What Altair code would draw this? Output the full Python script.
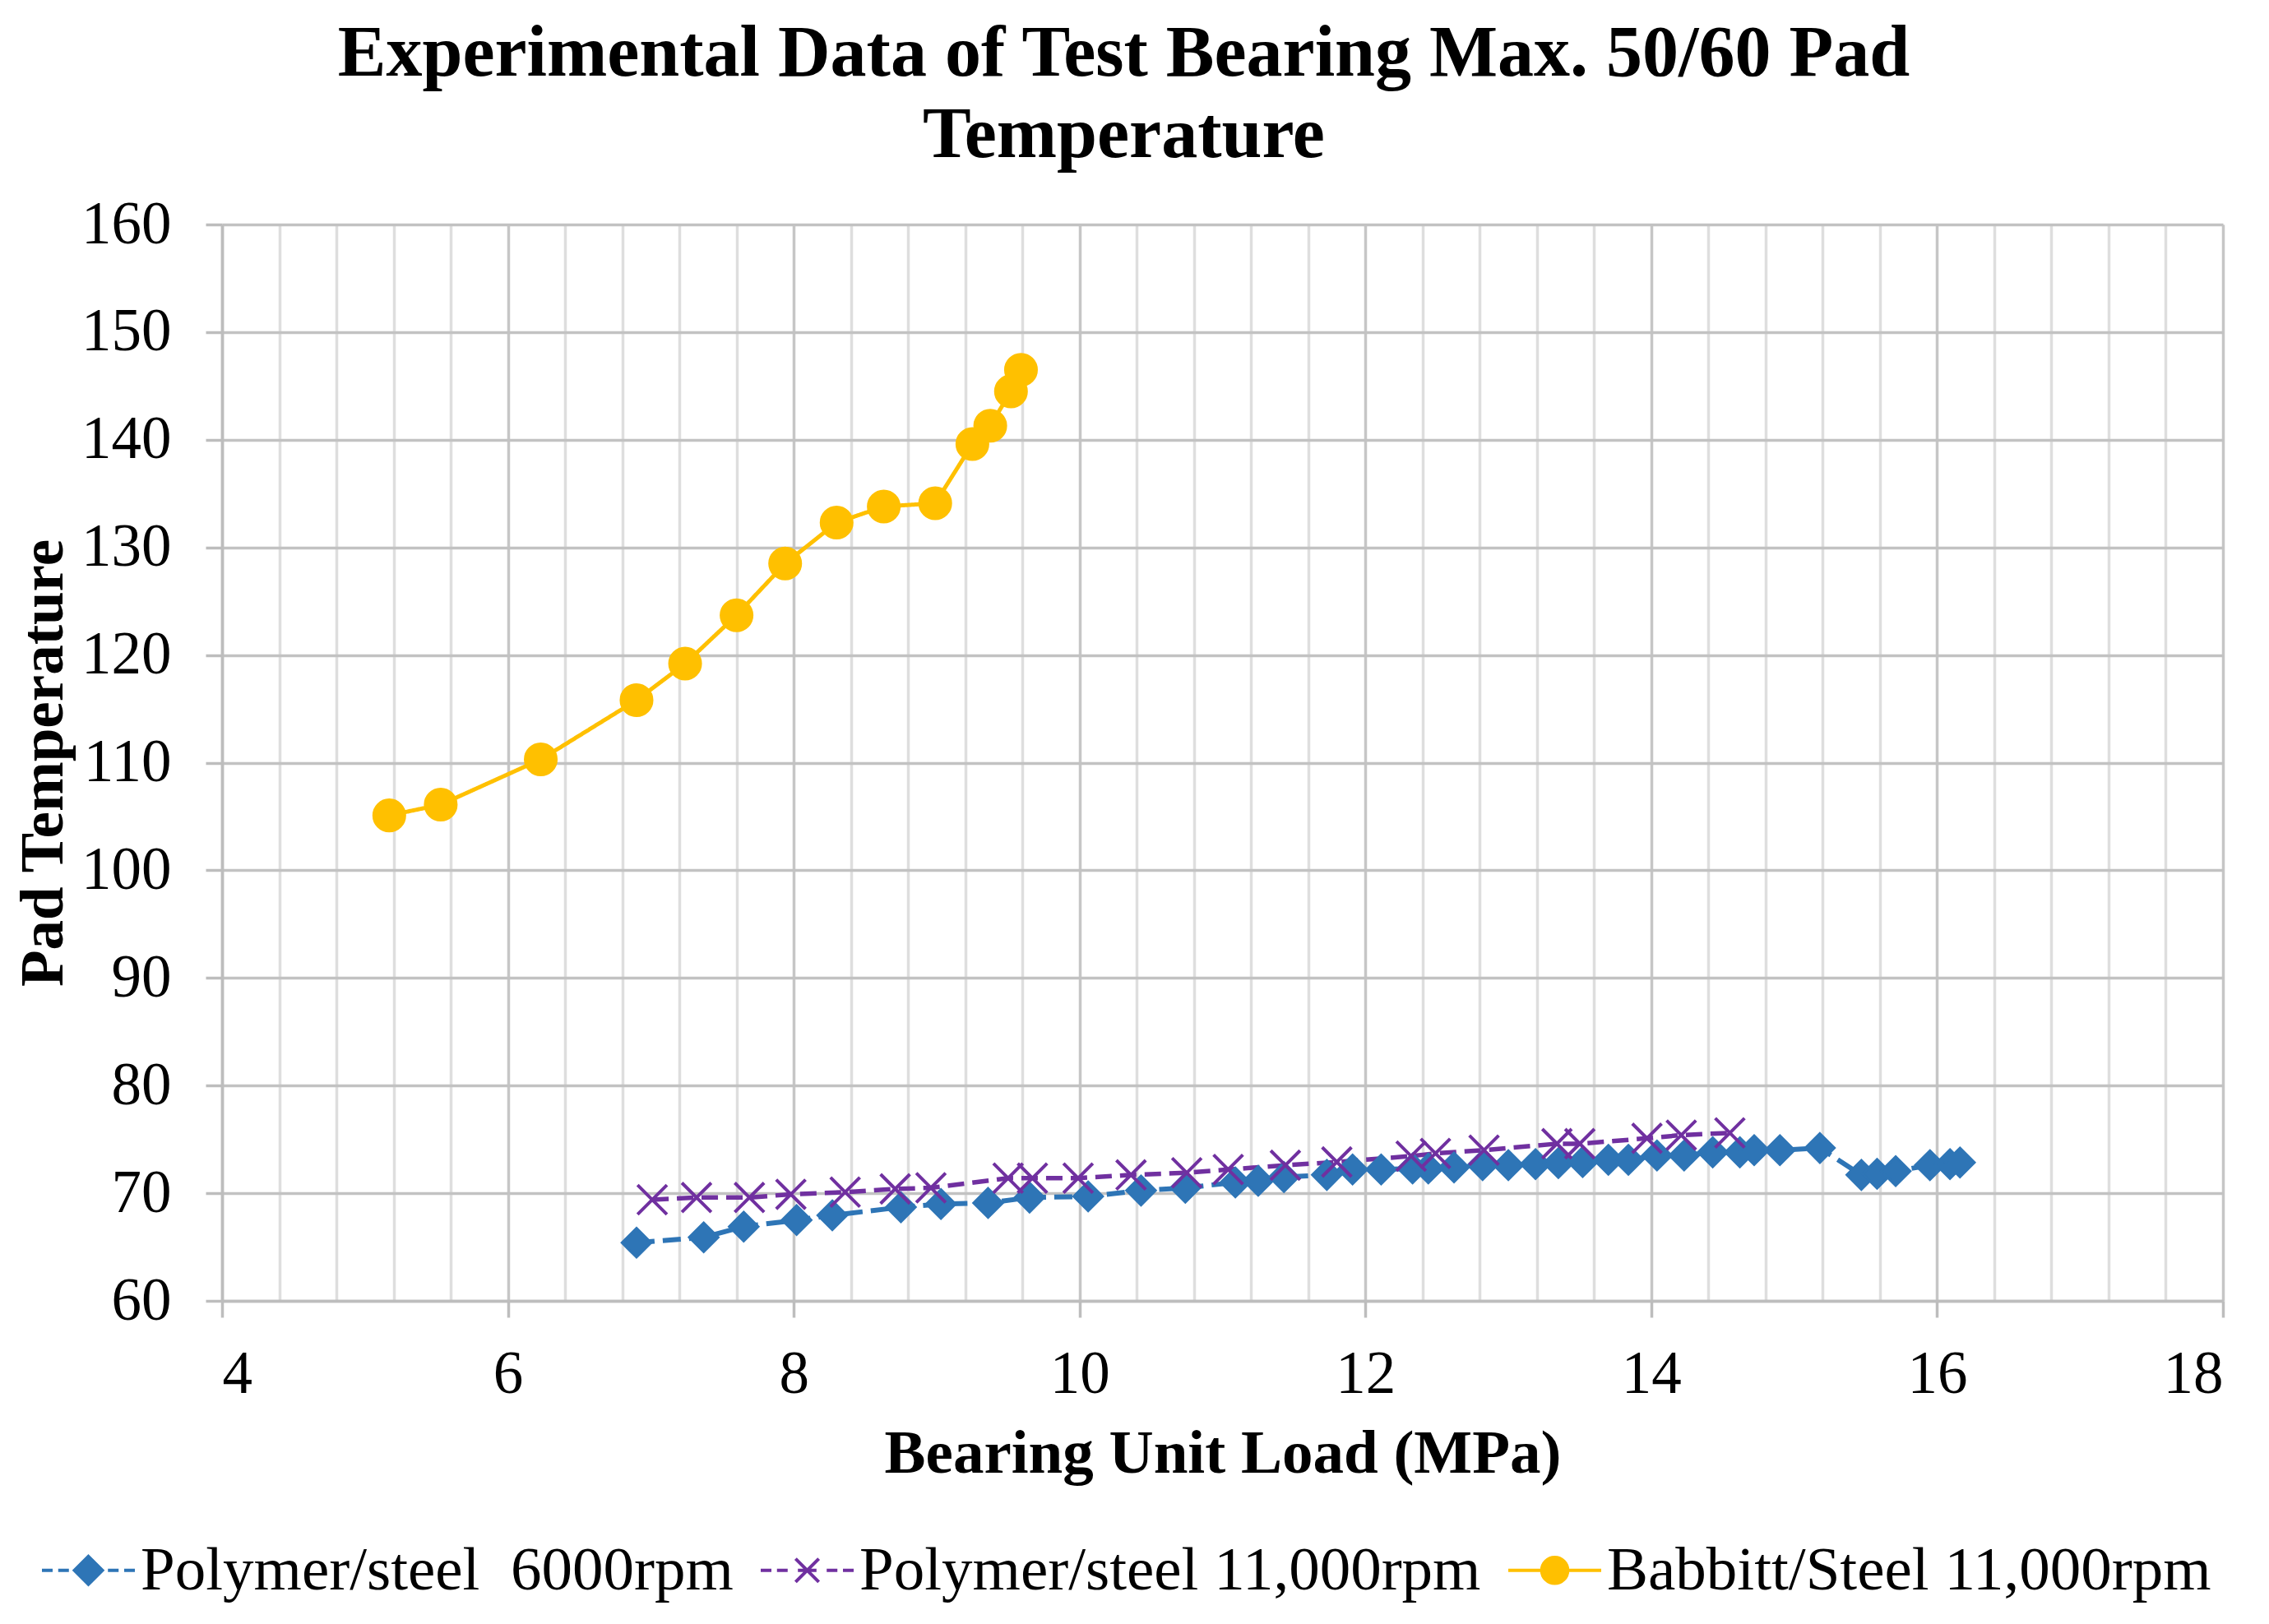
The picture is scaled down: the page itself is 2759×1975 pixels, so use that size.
import altair as alt
import pandas as pd

# ---------------- data ----------------
series_names = ["Polymer/steel\u00a0 6000rpm", "Polymer/steel 11,000rpm", "Babbitt/Steel 11,000rpm"]
series_colors = ["#2E75B6", "#7030A0", "#FFC000"]

p6000_x = [6.90, 7.37, 7.65, 8.02, 8.27, 8.75, 9.03, 9.36, 9.65, 10.06, 10.43, 10.74, 11.09, 11.25,
           11.43, 11.73, 11.91, 12.11, 12.33, 12.44, 12.62, 12.82, 13.00, 13.19, 13.35, 13.52, 13.70,
           13.84, 14.04, 14.23, 14.43, 14.62, 14.72, 14.90, 15.18, 15.47, 15.58, 15.71, 15.95, 16.09, 16.16]
p6000_y = [65.4, 65.9, 66.9, 67.5, 67.95, 68.7, 69.0, 69.1, 69.6, 69.7, 70.25, 70.5, 71.0, 71.15,
           71.5, 71.7, 72.2, 72.2, 72.3, 72.3, 72.4, 72.6, 72.6, 72.7, 72.8, 72.9, 73.1,
           73.1, 73.5, 73.5, 73.8, 73.8, 74.0, 74.0, 74.2, 71.7, 71.8, 72.05, 72.6, 72.7, 72.85]

p11000_x = [7.01, 7.32, 7.69, 7.98, 8.36, 8.71, 8.96, 9.50, 9.67, 9.99, 10.36, 10.75, 11.04, 11.44,
            11.80, 12.32, 12.49, 12.83, 13.34, 13.50, 13.97, 14.21, 14.55]
p11000_y = [69.4, 69.6, 69.6, 69.9, 70.1, 70.4, 70.5, 71.4, 71.4, 71.4, 71.7, 71.9, 72.2, 72.6,
            72.9, 73.45, 73.7, 74.0, 74.6, 74.6, 75.1, 75.4, 75.6]

babbitt_x = [5.17, 5.53, 6.23, 6.90, 7.24, 7.60, 7.94, 8.30, 8.63, 8.99, 9.25, 9.375, 9.52, 9.59]
babbitt_y = [105.1, 106.1, 110.3, 115.8, 119.2, 123.7, 128.5, 132.3, 133.8, 134.1, 139.6, 141.3, 144.5, 146.5]

x_grid_values = [round(4 + 0.4 * i, 1) for i in range(36)]
y_tick_values = [60, 70, 80, 90, 100, 110, 120, 130, 140, 150, 160]

title_lines = ["Experimental Data of Test Bearing Max. 50/60 Pad", "Temperature"]
x_title = "Bearing Unit Load (MPa)"
y_title = "Pad Temperature"

# ---------------- table ----------------
rows = []
for name, xs, ys in zip(series_names, [p6000_x, p11000_x, babbitt_x], [p6000_y, p11000_y, babbitt_y]):
    for i, (a, b) in enumerate(zip(xs, ys)):
        rows.append({"series": name, "load": a, "temp": b, "order": i})
df = pd.DataFrame(rows)

FONT = "Liberation Serif"
W, H = 2433, 1309

# marker shapes (plot) and legend glyphs (line + marker)
marker_paths = ["M0,-1L1,0L0,1L-1,0Z", "M-1,-1L1,1M-1,1L1,-1", "circle"]
legend_paths = [
    "M-1,0H-0.77M-0.65,0H-0.42M0,-0.3L0.3,0L0,0.3L-0.3,0ZM0.42,0H0.65M0.77,0H1",
    "M-1,0H-0.77M-0.65,0H-0.42M-0.25,-0.25L0.25,0.25M-0.25,0.25L0.25,-0.25M-0.2,0H0.2M0.42,0H0.65M0.77,0H1",
    "M-1,0H-0.28M0.28,0H1M0.28,0A0.28,0.28,0,1,1,-0.28,0A0.28,0.28,0,1,1,0.28,0Z",
]

color_scale = alt.Scale(domain=series_names, range=series_colors)

x_enc = alt.X(
    "load:Q",
    scale=alt.Scale(domain=[4, 18], nice=False, zero=False),
    axis=alt.Axis(
        values=x_grid_values,
        title=x_title,
        format="~g",
        labelExpr="datum.value % 2 === 0 ? datum.label : ''",
        labelOverlap=False,
        labelFont=FONT, labelFontSize=73, labelColor="black",
        labelBaseline="alphabetic", labelPadding=91,
        tickSize=20, tickWidth=3.5, tickColor="#BDBDBD",
        tickOpacity={"condition": {"test": "datum.value % 2 === 0", "value": 1}, "value": 0},
        grid=True, gridWidth=3.5,
        gridColor={"condition": {"test": "datum.value % 2 === 0", "value": "#C6C6C6"}, "value": "#DEDEDE"},
        domainColor="#BDBDBD", domainWidth=3.5,
        titleFont=FONT, titleFontSize=75, titleFontWeight="bold", titleColor="black",
        titleX=W / 2, titleY=208, titleBaseline="alphabetic",
    ),
)
y_enc = alt.Y(
    "temp:Q",
    scale=alt.Scale(domain=[60, 160], nice=False, zero=False),
    axis=alt.Axis(
        values=y_tick_values,
        title=y_title,
        labelFont=FONT, labelFontSize=73, labelColor="black",
        labelPadding=42,
        tickSize=20, tickWidth=3.5, tickColor="#BDBDBD",
        grid=True, gridWidth=3.5, gridColor="#C2C2C2",
        domainColor="#BDBDBD", domainWidth=3.5,
        titleFont=FONT, titleFontSize=73, titleFontWeight="bold", titleColor="black",
        titleX=-195, titleY=H / 2, titleBaseline="alphabetic", titleAngle=270,
    ),
)

base = alt.Chart(df)

lines = base.mark_line().encode(
    x=x_enc,
    y=y_enc,
    color=alt.Color("series:N", scale=color_scale, legend=None),
    strokeDash=alt.StrokeDash(
        "series:N",
        scale=alt.Scale(domain=series_names, range=[[22, 10], [20, 10], [1, 0]]),
        legend=None,
    ),
    strokeWidth=alt.StrokeWidth(
        "series:N", scale=alt.Scale(domain=series_names, range=[6, 5, 7]), legend=None
    ),
    order="order:Q",
)

points = base.mark_point(filled=True, opacity=1).encode(
    x=x_enc,
    y=y_enc,
    fill=alt.Fill("series:N", scale=color_scale, legend=None),
    stroke=alt.Stroke("series:N", scale=color_scale, legend=None),
    strokeWidth=alt.StrokeWidth(
        "series:N", scale=alt.Scale(domain=series_names, range=[3, 5, 3]), legend=None
    ),
    shape=alt.Shape("series:N", scale=alt.Scale(domain=series_names, range=marker_paths), legend=None),
    size=alt.Size("series:N", scale=alt.Scale(domain=series_names, range=[1250, 1300, 820]), legend=None),
)

legend_def = alt.Legend(
    orient="none", legendX=-221, legendY=1578, direction="horizontal",
    title=None, labelFont=FONT, labelFontSize=75, labelColor="black", labelLimit=3000,
    labelOffset=5, columnPadding=25, symbolSize=12769, symbolStrokeWidth=4,
    padding=0, symbolOpacity=1,
)

legend_layer = base.transform_filter("datum.load < 0").mark_point(
    filled=True, opacity=1, strokeWidth=4, size=12769
).encode(
    x=x_enc,
    y=y_enc,
    fill=alt.Fill("series:N", scale=color_scale, legend=legend_def),
    stroke=alt.Stroke("series:N", scale=color_scale, legend=legend_def),
    shape=alt.Shape("series:N", scale=alt.Scale(domain=series_names, range=legend_paths), legend=legend_def),
)

chart = (
    alt.layer(lines, points, legend_layer)
    .resolve_scale(shape="independent", fill="independent", stroke="independent",
                   strokeWidth="independent")
    .properties(
        width=W,
        height=H,
        autosize=alt.AutoSizeParams(type="none"),
        padding={"left": 262, "top": 265, "right": 48, "bottom": 385},
        title=alt.TitleParams(
            text=title_lines, font=FONT, fontSize=88, fontWeight="bold", color="black",
            anchor="middle", frame="group", dx=-120, offset=28, lineHeight=99,
        ),
    )
    .configure_view(stroke=None)
    .configure(background="white")
)

chart.save("out.html", embed_options={"renderer": "svg", "actions": False})
